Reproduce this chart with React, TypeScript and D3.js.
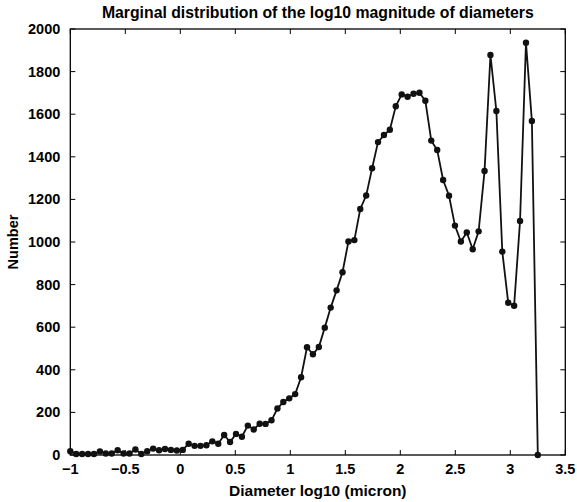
import React from "react";
import * as d3 from "d3";

const title = "Marginal distribution of the log10 magnitude of diameters";
const xLabel = "Diameter log10 (micron)";
const yLabel = "Number";

const xStart = -1;
const xEnd = 3.25;
const counts = [
  18, 5, 5, 5, 5, 17, 7, 7, 22, 7,
  7, 26, 5, 18, 30, 22, 28, 24, 21, 24,
  53, 43, 43, 46, 64, 53, 94, 61, 99, 86,
  138, 120, 147, 146, 163, 218, 249, 266, 286, 365,
  506, 473, 507, 598, 692, 773, 858, 1002, 1009, 1155,
  1218, 1346, 1469, 1502, 1527, 1637, 1693, 1682, 1696, 1701,
  1663, 1476, 1432, 1291, 1217, 1077, 1002, 1045, 966, 1050,
  1333, 1878, 1615, 955, 715, 701, 1099, 1936, 1568, 0,
];
const xTicks = [-1, -0.5, 0, 0.5, 1, 1.5, 2, 2.5, 3, 3.5];
const yTicks = [0, 200, 400, 600, 800, 1000, 1200, 1400, 1600, 1800, 2000];

export default function App() {
  const W = 577, H = 502;
  const L = 70.3, R = 565.3, T = 29, B = 455;
  const x = d3.scaleLinear().domain([-1, 3.5]).range([L, R]);
  const y = d3.scaleLinear().domain([0, 2000]).range([B, T]);
  const step = (xEnd - xStart) / (counts.length - 1);
  const pts: [number, number][] = counts.map((c, i) => [xStart + i * step, c]);
  const line = d3.line<[number, number]>().x(d => x(d[0])).y(d => y(d[1]));
  const font = "'Liberation Sans', Arial, Helvetica, sans-serif";
  const tl = 5;
  const fmt = (v: number) => (v < 0 ? "\u2212" + Math.abs(v) : String(v));
  return (
    <svg width={W} height={H} style={{ position: "absolute", left: 0, top: 0, background: "#fff" }} fontFamily={font} fontWeight="bold">
      <rect x={0} y={0} width={W} height={H} fill="#fff" />
      <text x={(L + R) / 2} y={17.5} textAnchor="middle" fontSize={15.8}>{title}</text>
      {xTicks.map(t => (
        <g key={"x" + t}>
          <line x1={x(t)} x2={x(t)} y1={B} y2={B - tl} stroke="#000" strokeWidth={1} />
          <line x1={x(t)} x2={x(t)} y1={T} y2={T + tl} stroke="#000" strokeWidth={1} />
          <text x={x(t)} y={B + 19} textAnchor="middle" fontSize={14.5}>{fmt(t)}</text>
        </g>
      ))}
      {yTicks.map(t => (
        <g key={"y" + t}>
          <line x1={L} x2={L + tl} y1={y(t)} y2={y(t)} stroke="#000" strokeWidth={1} />
          <line x1={R} x2={R - tl} y1={y(t)} y2={y(t)} stroke="#000" strokeWidth={1} />
          <text x={L - 10} y={y(t) + 5} textAnchor="end" fontSize={14.5}>{t}</text>
        </g>
      ))}
      <rect x={L} y={T} width={R - L} height={B - T} fill="none" stroke="#000" strokeWidth={1.3} />
      <path d={line(pts) || ""} fill="none" stroke="#111" strokeWidth={1.8} />
      {pts.map((p, i) => (
        <circle key={i} cx={x(p[0])} cy={y(p[1])} r={3.2} fill="#111" />
      ))}
      <text x={(L + R) / 2} y={496} textAnchor="middle" fontSize={15.5}>{xLabel}</text>
      <text transform={`translate(18,${(T + B) / 2}) rotate(-90)`} textAnchor="middle" fontSize={14.5}>{yLabel}</text>
    </svg>
  );
}
